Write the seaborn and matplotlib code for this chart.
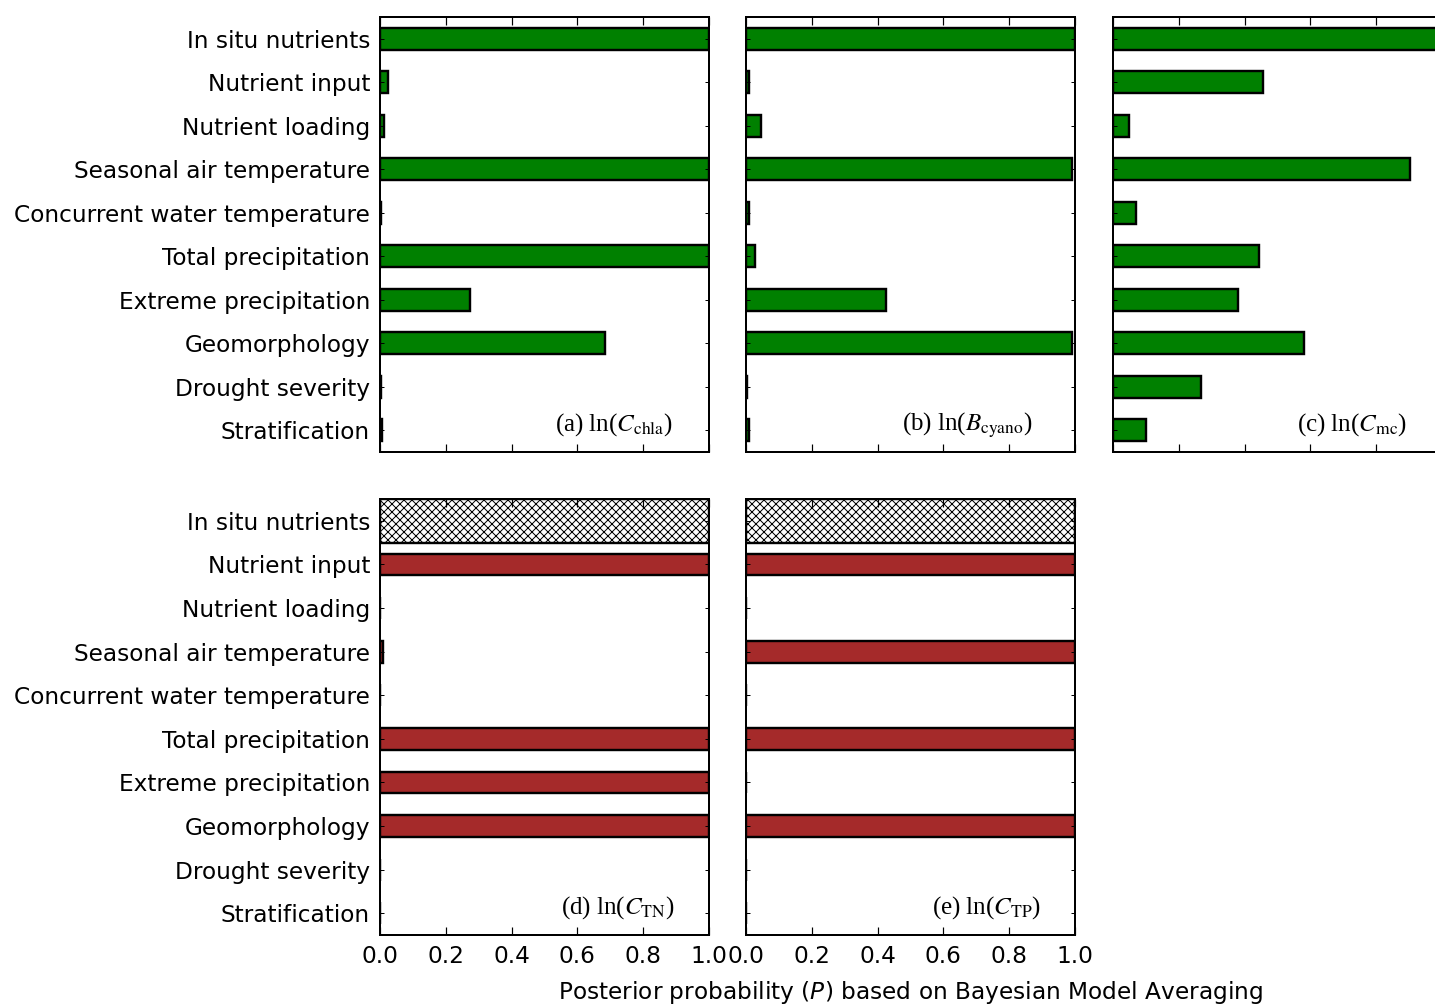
import numpy as np
import pandas as pd
import matplotlib
matplotlib.use("Agg")
import matplotlib.pyplot as plt
import seaborn as sns

categories = ["In situ nutrients", "Nutrient input", "Nutrient loading",
              "Seasonal air temperature", "Concurrent water temperature",
              "Total precipitation", "Extreme precipitation", "Geomorphology",
              "Drought severity", "Stratification"]

p_chla = [1.0, 0.025, 0.012, 1.0, 0.003, 1.0, 0.275, 0.684, 0.003, 0.006]
p_cyano = [1.0, 0.010, 0.045, 0.99, 0.008, 0.027, 0.425, 0.99, 0.004, 0.010]
p_mc = [1.0, 0.455, 0.049, 0.904, 0.069, 0.445, 0.381, 0.582, 0.267, 0.100]
p_tn = [np.nan, 1.0, 0.0, 0.008, 0.0, 1.0, 1.0, 1.0, 0.0, 0.0]
p_tp = [np.nan, 1.0, 0.0, 1.0, 0.0, 1.0, 0.0, 1.0, 0.0, 0.0]
# predictor not included in the model (hatched)
excluded = [1.0, np.nan, np.nan, np.nan, np.nan, np.nan, np.nan, np.nan, np.nan, np.nan]

panel_labels = [r"(a) ln($C_{\mathrm{chla}}$)", r"(b) ln($B_{\mathrm{cyano}}$)",
                r"(c) ln($C_{\mathrm{mc}}$)", r"(d) ln($C_{\mathrm{TN}}$)",
                r"(e) ln($C_{\mathrm{TP}}$)"]
xticks = [0.0, 0.2, 0.4, 0.6, 0.8, 1.0]
xtick_labels = ["0.0", "0.2", "0.4", "0.6", "0.8", "1.0"]

GREEN = "#008000"
RED = "#a52a2a"
DPI = 144
plt.rcParams["hatch.linewidth"] = 0.5
plt.rcParams["font.family"] = ["DejaVu Sans"]

fig = plt.figure(figsize=(1435 / DPI, 1006 / DPI), dpi=DPI)
W, H = 1435, 1006

def add_ax(x0, x1, y0, y1):
    return fig.add_axes([x0 / W, 1 - y1 / H, (x1 - x0) / W, (y1 - y0) / H])

axes = {
    "a": add_ax(380, 709, 17, 452),
    "b": add_ax(746, 1075, 17, 452),
    "c": add_ax(1113, 1442, 17, 452),
    "d": add_ax(380, 709, 499, 935),
    "e": add_ax(746, 1075, 499, 935),
}

specs = [
    ("a", p_chla, GREEN, False, 0.89),
    ("b", p_cyano, GREEN, False, 0.872),
    ("c", p_mc, GREEN, False, 0.894),
    ("d", p_tn, RED, True, 0.894),
    ("e", p_tp, RED, True, 0.897),
]

for i, (key, vals, col, hatched, lx) in enumerate(specs):
    ax = axes[key]
    df = pd.DataFrame({"predictor": categories, "P": vals})
    sns.barplot(data=df, x="P", y="predictor", order=categories, color=col,
                saturation=1, edgecolor="black", linewidth=1.2, width=0.5,
                errorbar=None, ax=ax)
    if hatched:
        dfx = pd.DataFrame({"predictor": categories, "P": excluded})
        sns.barplot(data=dfx, x="P", y="predictor", order=categories,
                    color="white", saturation=1, edgecolor="black",
                    linewidth=1.2, width=1.0, hatch="xxxxxx", errorbar=None, ax=ax)
    ax.set_xlim(0, 1)
    ax.set_ylim(9.5, -0.5)
    ax.set_xlabel("")
    ax.set_ylabel("")
    ax.set_xticks(xticks)
    ax.set_xticklabels(xtick_labels)
    for s in ax.spines.values():
        s.set_linewidth(1.0)
        s.set_visible(True)
    ax.tick_params(axis="x", direction="in", top=True, bottom=True,
                   length=4, width=0.6, labelsize=11.6, pad=5)
    ax.tick_params(axis="y", direction="in", left=True, right=True,
                   length=2, width=0.5, labelsize=11.6, pad=5)
    if key in ("a", "b", "c"):
        ax.tick_params(axis="x", labelbottom=False)
    if key in ("b", "c", "e"):
        ax.tick_params(axis="y", labelleft=False)
    ax.text(lx, 0.05, panel_labels[i], transform=ax.transAxes, ha="right",
            va="baseline", fontsize=12.5, family="Liberation Serif",
            math_fontfamily="stix")

fig.text(911 / W, 1 - 992 / H,
         r"Posterior probability ($P$) based on Bayesian Model Averaging",
         ha="center", va="center", fontsize=11.6)

fig.savefig("out.png", dpi=DPI, facecolor="white")
